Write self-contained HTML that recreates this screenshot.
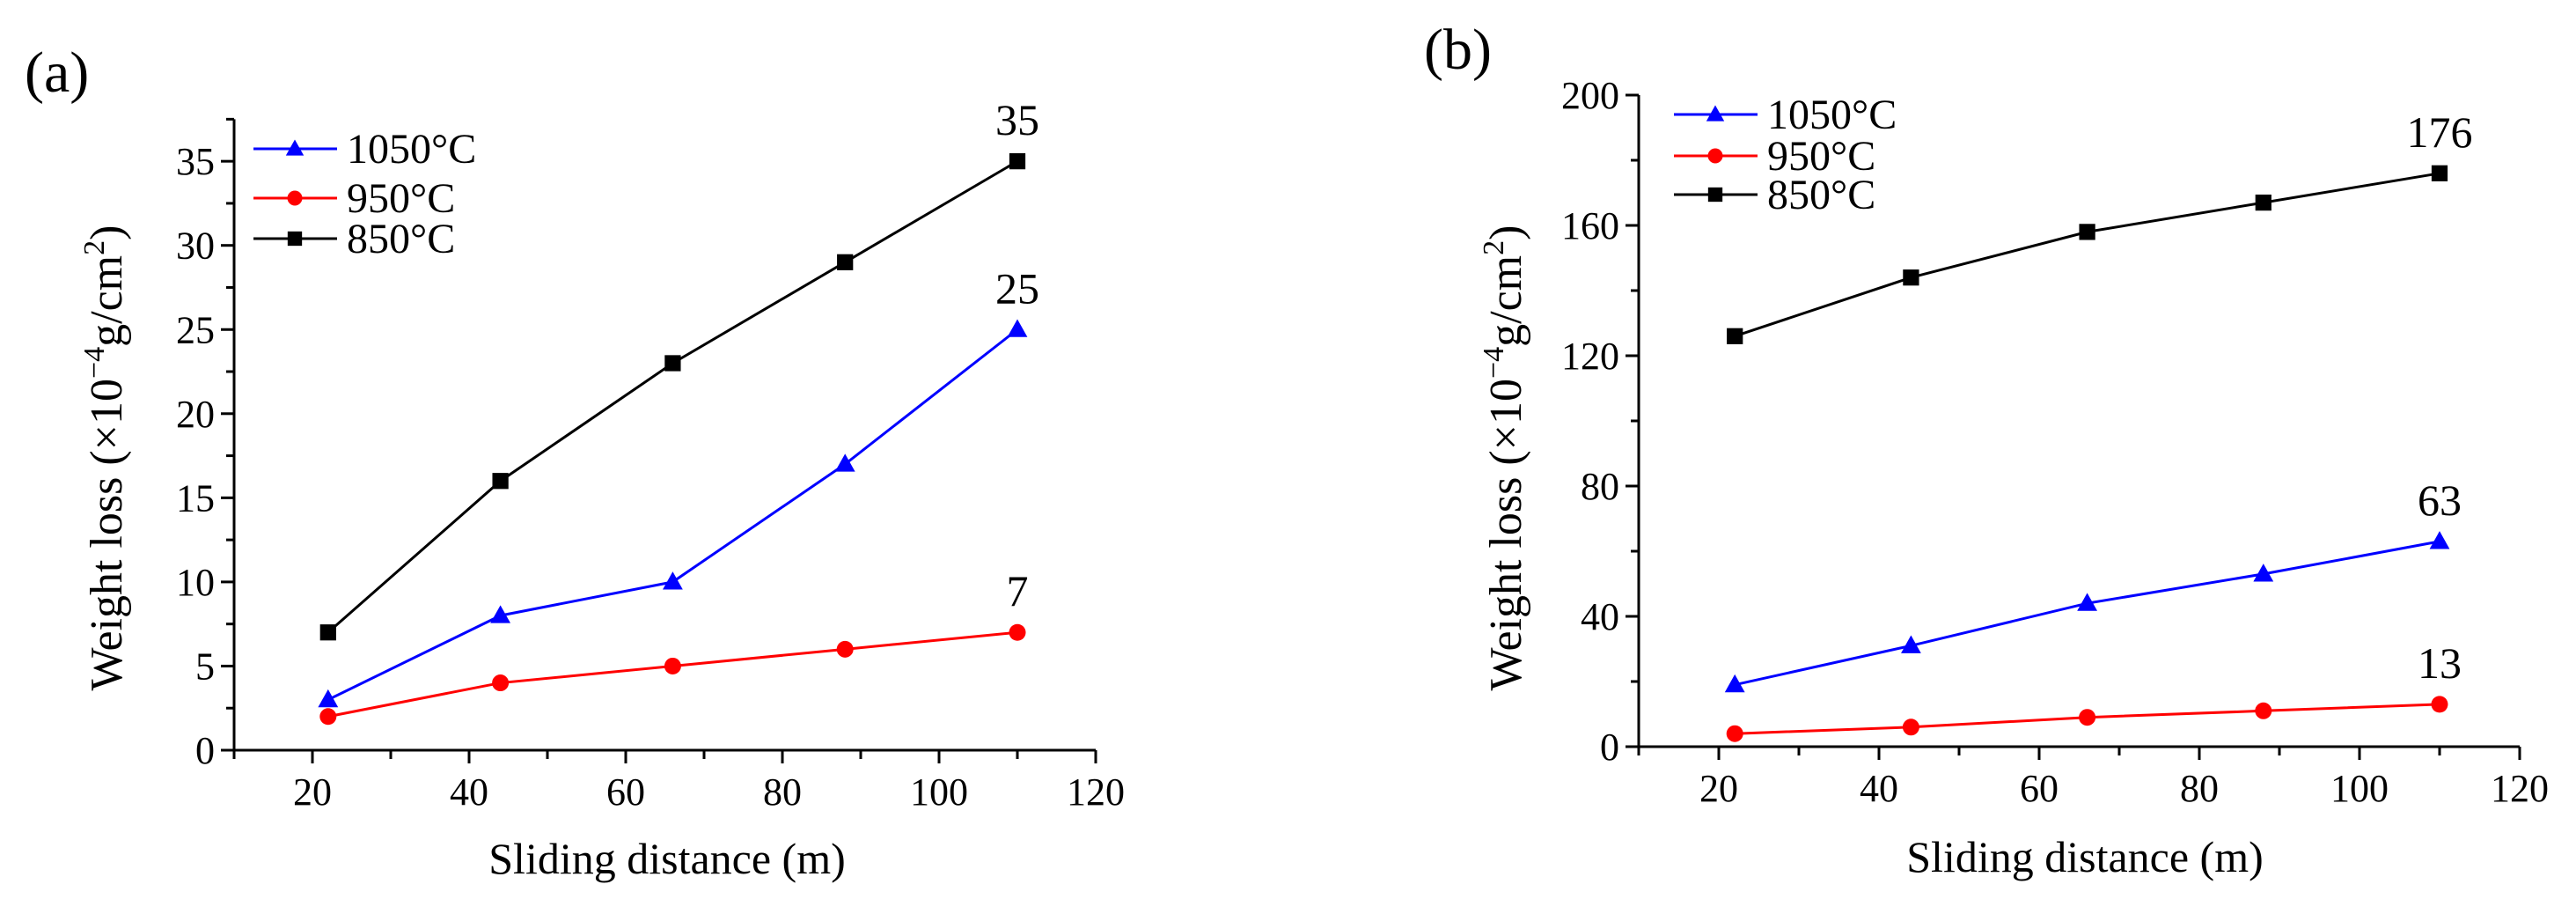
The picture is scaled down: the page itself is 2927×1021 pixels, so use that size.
<!DOCTYPE html>
<html><head><meta charset="utf-8">
<style>
html,body{margin:0;padding:0;background:#fff;}
svg{display:block;font-family:"Liberation Serif",serif;}
</style></head>
<body>
<svg id="fig" width="2927" height="1021" viewBox="0 0 2927 1021" xmlns="http://www.w3.org/2000/svg">
<rect width="2927" height="1021" fill="#fff"/>
<text x="28" y="104" font-size="66">(a)</text>
<text x="1618" y="78" font-size="66">(b)</text>
<g id="chartA"></g>
<g id="chartB"></g>
</svg>
<script>
const categories = [22, 44, 66, 88, 110];
const seriesNames = ["1050°C", "950°C", "850°C"];
const aBlue = [3, 8, 10, 17, 25];
const aRed = [2, 4, 5, 6, 7];
const aBlack = [7, 16, 23, 29, 35];
const bBlue = [19, 31, 44, 53, 63];
const bRed = [4, 6, 9, 11, 13];
const bBlack = [126, 144, 158, 167, 176];
const xTicks = [20, 40, 60, 80, 100, 120];
const aYTicks = [0, 5, 10, 15, 20, 25, 30, 35];
const bYTicks = [0, 40, 80, 120, 160, 200];

const NS = "http://www.w3.org/2000/svg";
function mk(parent, tag, attrs, text) {
  const e = document.createElementNS(NS, tag);
  for (const k in attrs) e.setAttribute(k, attrs[k]);
  if (text !== undefined) e.textContent = text;
  parent.appendChild(e);
  return e;
}
function marker(g, type, cx, cy, color, s) {
  let e;
  if (type === "tri") {
    e = mk(g, "polygon", {points: `${cx},${cy - s * 0.62} ${cx - s * 0.6},${cy + s * 0.45} ${cx + s * 0.6},${cy + s * 0.45}`, fill: color});
  } else if (type === "circ") {
    e = mk(g, "circle", {cx: cx, cy: cy, r: s * 0.5, fill: color});
  } else {
    e = mk(g, "rect", {x: cx - s * 0.48, y: cy - s * 0.48, width: s * 0.96, height: s * 0.96, fill: color});
  }
  return e;
}

function drawChart(g, cfg) {
  const X = v => cfg.x0 + (v - cfg.xmin) * cfg.xs;
  const Y = v => cfg.y0 - (v - cfg.ymin) * cfg.ys;
  const ya = mk(g, "line", {x1: cfg.x0, y1: Y(cfg.ymax), x2: cfg.x0, y2: cfg.y0 + 10, stroke: "#000", "stroke-width": 3});
  
  
  const xa = mk(g, "line", {x1: cfg.x0 - 15, y1: cfg.y0, x2: X(120), y2: cfg.y0, stroke: "#000", "stroke-width": 3});
  
  
  for (let v = 10; v <= 120; v += 10) {
    const major = xTicks.includes(v);
    mk(g, "line", {x1: X(v), y1: cfg.y0, x2: X(v), y2: cfg.y0 + (major ? 15 : 10), stroke: "#000", "stroke-width": 3});
  }
  xTicks.forEach(v => {
    const t = mk(g, "text", {x: X(v), y: cfg.y0 + 62, "font-size": 44, "text-anchor": "middle"}, String(v));
    
    
  });
  for (let v = cfg.ymin; v <= cfg.ymax + 1e-9; v += cfg.minor) {
    const major = cfg.yTicks.some(t => Math.abs(t - v) < 1e-9);
    mk(g, "line", {x1: cfg.x0 - (major ? 15 : 9), y1: Y(v), x2: cfg.x0, y2: Y(v), stroke: "#000", "stroke-width": 3});
  }
  cfg.yTicks.forEach(v => {
    const t = mk(g, "text", {x: cfg.x0 - 22, y: Y(v) + 15, "font-size": 44, "text-anchor": "end"}, String(v));
    
    
  });
  const xt = mk(g, "text", {x: cfg.xtx, y: cfg.xty, "font-size": 50, "text-anchor": "middle"}, "Sliding distance (m)");
  
  
  const yt = mk(g, "text", {x: 0, y: 0, "font-size": 52, "text-anchor": "middle", transform: `translate(${cfg.ytx},${cfg.yty}) rotate(-90)`});
  
  
  mk(yt, "tspan", {}, "Weight loss (×10");
  mk(yt, "tspan", {dy: -20, "font-size": 34}, "−4");
  mk(yt, "tspan", {dy: 20}, "g/cm");
  mk(yt, "tspan", {dy: -20, "font-size": 34}, "2");
  mk(yt, "tspan", {dy: 20}, ")");
  const series = [
    {vals: cfg.blue, color: "#0000ff", type: "tri", name: "series-1050c"},
    {vals: cfg.red, color: "#ff0000", type: "circ", name: "series-950c"},
    {vals: cfg.black, color: "#000000", type: "sq", name: "series-850c"}
  ];
  series.forEach(s => {
    const sg = mk(g, "g", {});
    
    
    const pts = s.vals.map((v, i) => `${X(categories[i])},${Y(v)}`).join(" ");
    mk(sg, "polyline", {points: pts, fill: "none", stroke: s.color, "stroke-width": 3});
    s.vals.forEach((v, i) => {
      const m = marker(sg, s.type, X(categories[i]), Y(v), s.color, 19);
      
      
    });
    const last = s.vals[s.vals.length - 1];
    const lab = mk(sg, "text", {x: X(categories[4]), y: Y(last) - 30, "font-size": 50, "text-anchor": "middle"}, String(last));
    
    
  });
  const lg = mk(g, "g", {});
  
  
  series.forEach((s, i) => {
    const ly = cfg.legY[i];
    const eg = mk(lg, "g", {});
    
    
    mk(eg, "line", {x1: cfg.legX, y1: ly, x2: cfg.legX + 95, y2: ly, stroke: s.color, "stroke-width": 3});
    marker(eg, s.type, cfg.legX + 47, ly, s.color, 17);
    mk(eg, "text", {x: cfg.legX + 106, y: ly + 16, "font-size": 48}, seriesNames[i]);
  });
}

drawChart(document.getElementById("chartA"), {
  x0: 266, y0: 852, xmin: 10, xs: 8.9, ymin: 0, ymax: 37.5, ys: 19.11, minor: 2.5,
  yTicks: aYTicks, blue: aBlue, red: aRed, black: aBlack,
  xtx: 758, xty: 992, ytx: 138, yty: 520, legX: 288, legY: [169, 225, 271]
});
drawChart(document.getElementById("chartB"), {
  x0: 1862, y0: 848, xmin: 10, xs: 9.1, ymin: 0, ymax: 200, ys: 3.7, minor: 20,
  yTicks: bYTicks, blue: bBlue, red: bRed, black: bBlack,
  xtx: 2369, xty: 990, ytx: 1728, yty: 520, legX: 1902, legY: [130, 177, 221]
});
</script>
</body></html>
